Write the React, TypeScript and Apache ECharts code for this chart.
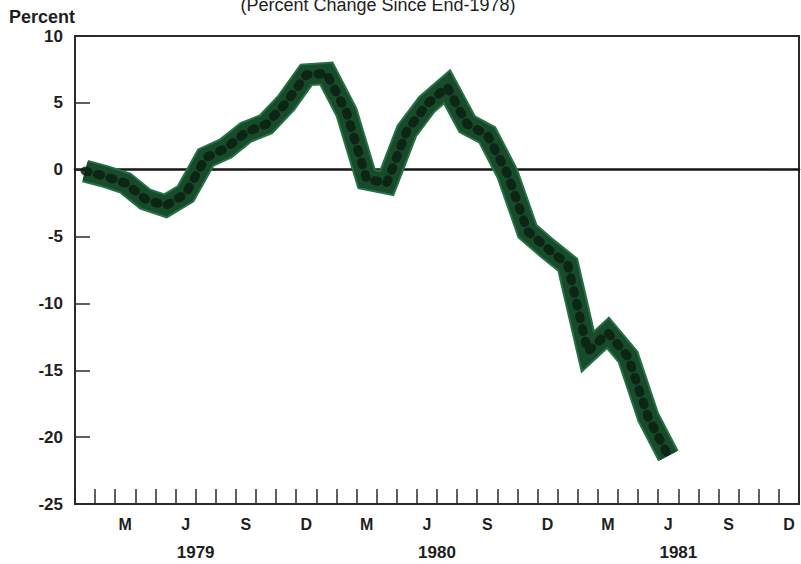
import React, { useEffect, useRef } from "react";
import * as echarts from "echarts";

// ---- data ----
const years = ["1979", "1980", "1981"];
const monthInitials = ["J", "F", "M", "A", "M", "J", "J", "A", "S", "O", "N", "D"];
const labeledMonthIdx = [2, 5, 8, 11]; // M, J, S, D
const months = years.flatMap((y) =>
  monthInitials.map((_, i) => `${y}-${String(i + 1).padStart(2, "0")}`)
);
// monthly values, Jan 1979 .. Jun 1981 (percent change since end-1978)
const values1979 = [-0.1, -0.5, -1.0, -2.2, -2.7, -1.8, 0.9, 1.6, 2.8, 3.4, 5.0, 7.1];
const values1980 = [7.2, 4.3, -0.7, -1.0, 2.9, 4.9, 6.2, 3.4, 2.6, -0.3, -4.6, -5.9];
const values1981 = [-7.1, -13.6, -12.2, -14.0, -18.5, -21.4];
const series = [...values1979, ...values1980, ...values1981];
const yMin = -25;
const yMax = 10;
const yStep = 5;

const FONT = "'Liberation Sans', Arial, Helvetica, sans-serif";
const INK = "#1e1e1e";
const AXIS = "#2a2a2a";

export default function App() {
  const ref = useRef<HTMLDivElement>(null);
  useEffect(() => {
    if (!ref.current) return;
    const chart = echarts.init(ref.current, undefined, { renderer: "svg" });
    const lineBase = {
      type: "line",
      xAxisIndex: 0,
      yAxisIndex: 0,
      data: series,
      showSymbol: false,
      symbol: "none",
      smooth: false,
      silent: true,
    };
    chart.setOption({
      animation: false,
      backgroundColor: "#ffffff",
      grid: {
        left: 75,
        right: 2,
        top: 36,
        bottom: 60,
        show: true,
        borderColor: AXIS,
        borderWidth: 2,
        backgroundColor: "transparent",
      },
      graphic: [
        {
          type: "text",
          left: 9,
          top: 8,
          style: {
            text: "Percent",
            fill: INK,
            font: `bold 18px ${FONT}`,
          },
        },
        {
          type: "text",
          x: 378,
          y: 5,
          style: {
            text: "(Percent Change Since End-1978)",
            fill: INK,
            font: `18px ${FONT}`,
            align: "center",
            verticalAlign: "middle",
            textAlign: "center",
            textVerticalAlign: "middle",
          },
        },
      ],
      xAxis: [
        {
          type: "category",
          data: months,
          boundaryGap: true,
          position: "bottom",
          axisLine: { onZero: false, lineStyle: { color: AXIS, width: 2 } },
          axisTick: {
            show: true,
            inside: true,
            interval: 0,
            length: 15,
            lineStyle: { color: AXIS, width: 1.5 },
          },
          axisLabel: {
            interval: 0,
            margin: 12,
            color: INK,
            fontFamily: FONT,
            fontWeight: "bold",
            fontSize: 16,
            formatter: (_v: string, i: number) =>
              labeledMonthIdx.includes(i % 12) ? monthInitials[i % 12] : "",
          },
          splitLine: { show: false },
        },
        {
          type: "category",
          data: years,
          boundaryGap: true,
          position: "bottom",
          axisLine: { show: false, onZero: false },
          axisTick: { show: false },
          axisLabel: {
            interval: 0,
            margin: 40,
            color: INK,
            fontFamily: FONT,
            fontWeight: "bold",
            fontSize: 17,
          },
          splitLine: { show: false },
        },
        {
          type: "category",
          data: months,
          boundaryGap: true,
          position: "bottom",
          axisLine: { show: true, onZero: true, lineStyle: { color: "#151515", width: 2.5 } },
          axisTick: { show: false },
          axisLabel: { show: false },
          splitLine: { show: false },
        },
      ],
      yAxis: {
        type: "value",
        min: yMin,
        max: yMax,
        interval: yStep,
        axisLine: { show: true, onZero: false, lineStyle: { color: AXIS, width: 2 } },
        axisTick: { show: true, inside: true, length: 15, lineStyle: { color: AXIS, width: 1.5 } },
        splitLine: { show: false },
        axisLabel: {
          margin: 12,
          color: INK,
          fontFamily: FONT,
          fontWeight: "bold",
          fontSize: 17,
        },
      },
      series: [
        {
          ...lineBase,
          name: "edge",
          z: 3,
          lineStyle: { color: "#257044", width: 23, cap: "butt", join: "miter", miterLimit: 10 },
        },
        {
          ...lineBase,
          name: "band",
          z: 4,
          lineStyle: { color: "#184b2c", width: 19, cap: "butt", join: "miter", miterLimit: 10 },
        },
        {
          ...lineBase,
          name: "dots",
          z: 5,
          lineStyle: {
            color: "#0b1f12",
            width: 9,
            type: [3, 10],
            cap: "round",
            join: "round",
            opacity: 0.85,
          },
        },
      ],
    });
    return () => chart.dispose();
  }, []);
  return (
    <div
      ref={ref}
      style={{ position: "fixed", left: 0, top: 0, width: 801, height: 564, background: "#fff" }}
    />
  );
}
